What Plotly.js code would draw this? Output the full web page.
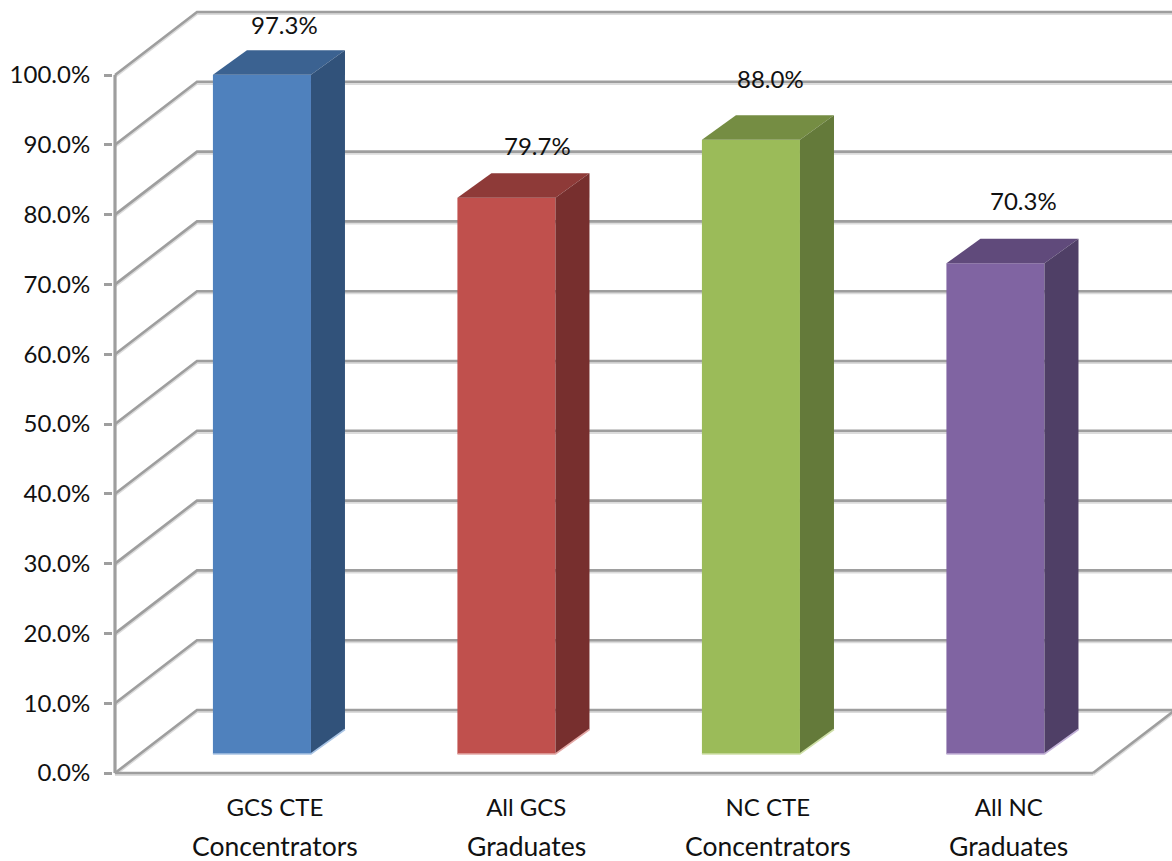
<!DOCTYPE html>
<html><head><meta charset="utf-8">
<script src="https://cdn.plot.ly/plotly-3.0.1.min.js"></script>
<style>html,body{margin:0;padding:0;background:#fff}</style></head>
<body><div id="chart" style="width:1172px;height:861px"></div>
<script>
const categoryLine1 = ["GCS CTE", "All GCS", "NC CTE", "All NC"];
const categoryLine2 = ["Concentrators", "Graduates", "Concentrators", "Graduates"];
const values = [97.3, 79.7, 88.0, 70.3];
const gridValues = [0, 10, 20, 30, 40, 50, 60, 70, 80, 90, 100];
const faceColors = ["#4f81bd", "#c0504d", "#9bbb59", "#8064a2"];
const topColors = ["#3b6291", "#8e3a38", "#758d43", "#604a7b"];
const sideColors = ["#31527a", "#772f2e", "#647a3a", "#4f3f66"];
const rimColors = ["#a9c4e4", "#e3a9a7", "#cfe0a8", "#c3b2d8"];

// Scale helpers: pixels per data unit of the two axes
const W = 1172, H = 861, padL = 2, padB = 4, L = 115 - padL, B = 88 - padB;
const pxX = 244.5, pxY = 6.98;
const ux = p => p / pxX, uy = p => p / pxY;
const xRange = [ux(-padL), ux(W - 115)], yRange = [uy(-padB), uy(H - 88)];
const xMax = xRange[1];

const wallDx = ux(82), wallDy = uy(63);
const barDx = ux(34), barDy = uy(24.5);
const barBase = uy(19);
const barCenter = 0.601, barWidth = 0.401;
const floorEnd = 4;

const traces = [];
// Walls and gridlines (main subplot, under the bars)
function wallPath(shift) {
  const xs = [], ys = [];
  gridValues.forEach(v => {
    const y = v - shift;
    if (v === 0) {
      xs.push(floorEnd, floorEnd + wallDx, null); ys.push(y, y + wallDy, null);
      xs.push(0, floorEnd, null); ys.push(y, y, null);
    }
    xs.push(0, wallDx, xMax, null); ys.push(y, y + wallDy, y + wallDy, null);
  });
  return {xs, ys};
}
const shadow = wallPath(uy(1.6)), line = wallPath(0);
traces.push({type:"scatter", mode:"lines", x:shadow.xs, y:shadow.ys, connectgaps:false,
  line:{color:"#dcdcdc", width:3}, hoverinfo:"skip", showlegend:false});
traces.push({type:"scatter", mode:"lines", x:line.xs, y:line.ys, connectgaps:false,
  line:{color:"#9e9e9e", width:2.6}, hoverinfo:"skip", showlegend:false});
traces.push({type:"scatter", mode:"lines", x:[0,0], y:[0,100],
  line:{color:"#9e9e9e", width:3.2}, hoverinfo:"skip", showlegend:false});

// Front faces
traces.push({type:"bar", x:values.map((_,i)=>i+barCenter), y:values, base:values.map(()=>barBase),
  width:barWidth, marker:{color:faceColors, line:{width:0}}, xaxis:"x2", yaxis:"y2",
  hoverinfo:"skip", showlegend:false});

// Top and side faces computed from the values
values.forEach((v,i) => {
  const l = i + barCenter - barWidth/2, r = l + barWidth;
  const t = barBase + v, b = barBase;
  traces.push({type:"scatter", mode:"lines", fill:"toself", fillcolor:topColors[i],
    x:[l, r, r+barDx, l+barDx, l], y:[t, t, t+barDy, t+barDy, t],
    line:{width:0, color:topColors[i]}, xaxis:"x2", yaxis:"y2", hoverinfo:"skip", showlegend:false});
  traces.push({type:"scatter", mode:"lines", fill:"toself", fillcolor:sideColors[i],
    x:[r, r+barDx, r+barDx, r, r], y:[t, t+barDy, b+barDy, b, t],
    line:{width:0, color:sideColors[i]}, xaxis:"x2", yaxis:"y2", hoverinfo:"skip", showlegend:false});
  traces.push({type:"scatter", mode:"lines", x:[l, r, r+barDx], y:[b, b, b+barDy],
    line:{width:1.6, color:rimColors[i]}, xaxis:"x2", yaxis:"y2", hoverinfo:"skip", showlegend:false});
});

const font = {family:"Lato, 'Open Sans', sans-serif", size:24, color:"#111"};
const font2 = {family:"Lato, 'Open Sans', sans-serif", size:26.5, color:"#111"};
const labelShiftX = [23, 31, 20, 28];
const labelShiftY = [50, 52, 61, 63];
const labelAnn = values.map((v,i)=>({
  x:i+barCenter, y:barBase+v, xref:"x", yref:"y", text:v.toFixed(1)+"%", showarrow:false,
  xanchor:"center", yanchor:"middle", xshift:labelShiftX[i], yshift:labelShiftY[i], font
}));
const tickX = [0.654, 1.682, 2.670, 3.656];
const line2Ann = categoryLine2.map((c,i)=>({
  x:tickX[i], y:0, xref:"x", yref:"y", text:c, showarrow:false,
  xanchor:"center", yanchor:"middle", yshift:-73, font:font2
}));

const layout = {
  width:W, height:H, margin:{l:L, r:0, t:0, b:B}, paper_bgcolor:"#fff", plot_bgcolor:"#fff",
  showlegend:false, barmode:"overlay", font,
  xaxis:{range:xRange, showgrid:false, zeroline:false, showline:false, ticks:"",
    tickmode:"array", tickvals:tickX, ticktext:categoryLine1, tickfont:font, ticklabelstandoff:14, automargin:false},
  yaxis:{range:yRange, showgrid:false, zeroline:false, showline:false, ticks:"outside", ticklen:8, tickwidth:3, tickcolor:"#9e9e9e",
    tickmode:"array", tickvals:gridValues, ticktext:gridValues.map(v=>v.toFixed(1)+"%"), tickfont:font, ticklabelstandoff:9, automargin:false},
  xaxis2:{range:xRange, overlaying:"x", visible:false},
  yaxis2:{range:yRange, overlaying:"y", visible:false},
  annotations:labelAnn.concat(line2Ann)
};
Plotly.newPlot("chart", traces, layout, {staticPlot:true, displayModeBar:false});
</script></body></html>
